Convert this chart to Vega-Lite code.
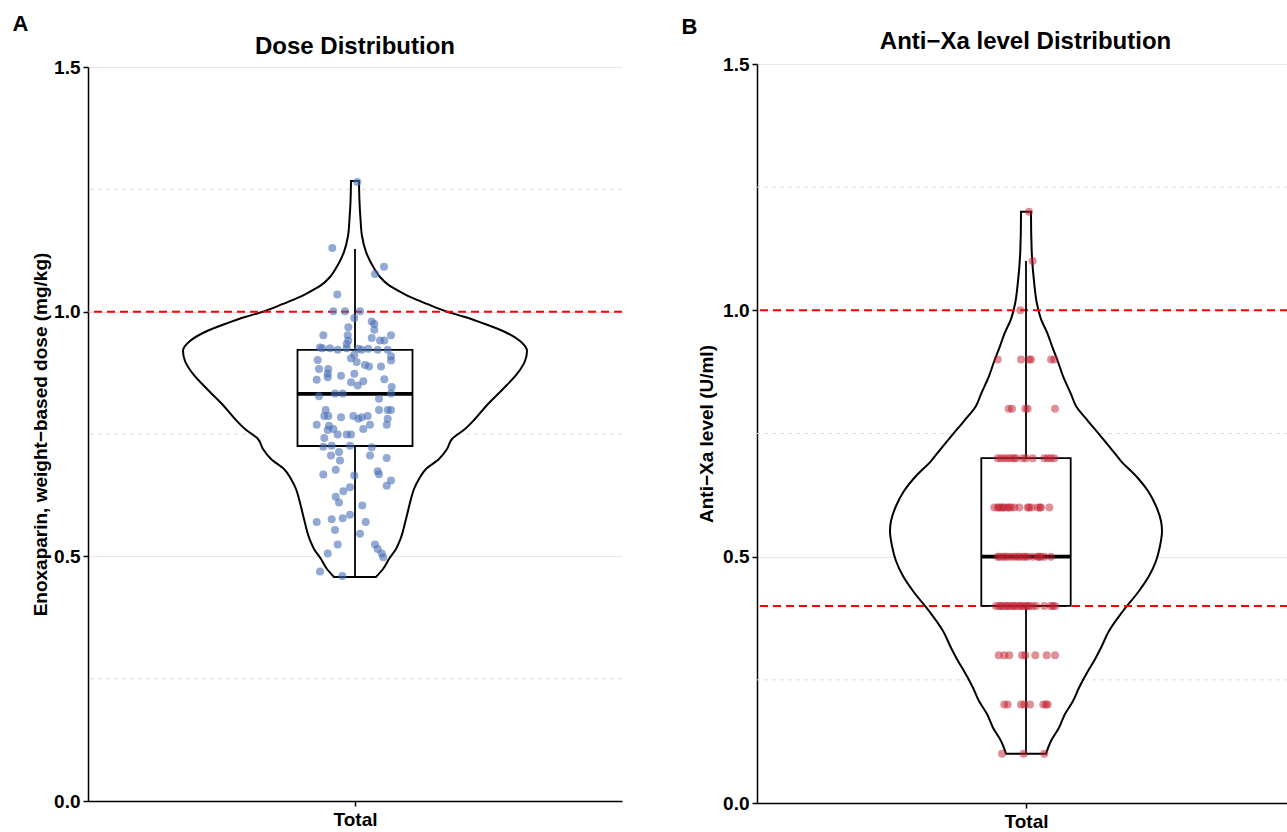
{
"$schema": "https://vega.github.io/schema/vega-lite/v6.json",
"padding": {"left": 12, "top": 13, "right": 0, "bottom": 0},
"spacing": 58,
"config": {
 "font": "Liberation Sans",
 "view": {"stroke": null},
 "axis": {"domainColor": "#000", "domainWidth": 1.5, "tickColor": "#000", "tickWidth": 1.5, "tickSize": 5, "labelColor": "#000", "labelFontWeight": "bold", "labelFontSize": 19, "titleColor": "#000", "titleFontWeight": "bold", "titleFontSize": 19, "gridColor": "#e6e6e6", "gridWidth": 1},
 "title": {"color": "#000", "fontWeight": "bold", "fontSize": 24}
},
"datasets": {
 "empty": [],
 "minor": [{"g": 0.25}, {"g": 0.75}, {"g": 1.25}],
 "refA": [{"r": 1.0}],
 "refB": [{"r": 1.0}, {"r": 0.4}],
 "boxA": [{"lo": 0.458, "q1": 0.7255, "med": 0.832, "q3": 0.922, "hi": 1.128}],
 "boxB": [{"lo": 0.1, "q1": 0.4, "med": 0.5, "q3": 0.7, "hi": 1.1}],
 "violA": [
  {"v":0.4578,"lo":-0.21,"hi":0.21},{"v":0.4741,"lo":-0.28,"hi":0.28},{"v":0.4946,"lo":-0.34,"hi":0.34},{"v":0.515,"lo":-0.41,"hi":0.41},{"v":0.5355,"lo":-0.455,"hi":0.455},{"v":0.5763,"lo":-0.51,"hi":0.51},{"v":0.6172,"lo":-0.56,"hi":0.56},{"v":0.6376,"lo":-0.59,"hi":0.59},{"v":0.6581,"lo":-0.64,"hi":0.64},{"v":0.6785,"lo":-0.71,"hi":0.71},{"v":0.699,"lo":-0.84,"hi":0.84},{"v":0.7194,"lo":-0.92,"hi":0.92},{"v":0.7398,"lo":-0.97,"hi":0.97},{"v":0.7603,"lo":-1.1,"hi":1.1},{"v":0.7807,"lo":-1.2,"hi":1.2},{"v":0.8114,"lo":-1.33,"hi":1.33},{"v":0.842,"lo":-1.48,"hi":1.48},{"v":0.8727,"lo":-1.62,"hi":1.62},{"v":0.8992,"lo":-1.7,"hi":1.7},{"v":0.9197,"lo":-1.72,"hi":1.72},{"v":0.9401,"lo":-1.65,"hi":1.65},{"v":0.9585,"lo":-1.5,"hi":1.5},{"v":0.9748,"lo":-1.3,"hi":1.3},{"v":0.9891,"lo":-1.1,"hi":1.1},{"v":0.9994,"lo":-0.93,"hi":0.93},{"v":1.0158,"lo":-0.72,"hi":0.72},{"v":1.0301,"lo":-0.55,"hi":0.55},{"v":1.0464,"lo":-0.4,"hi":0.4},{"v":1.0532,"lo":-0.345,"hi":0.345},{"v":1.0709,"lo":-0.25,"hi":0.25},{"v":1.0873,"lo":-0.195,"hi":0.195},{"v":1.122,"lo":-0.11,"hi":0.11},{"v":1.1546,"lo":-0.07,"hi":0.07},{"v":1.1894,"lo":-0.055,"hi":0.055},{"v":1.2242,"lo":-0.045,"hi":0.045},{"v":1.2671,"lo":-0.04,"hi":0.04}
 ],
 "violB": [
  {"v":0.1,"lo":-0.2,"hi":0.2},{"v":0.1258,"lo":-0.25,"hi":0.25},{"v":0.1528,"lo":-0.33,"hi":0.33},{"v":0.1806,"lo":-0.39,"hi":0.39},{"v":0.207,"lo":-0.47,"hi":0.47},{"v":0.234,"lo":-0.53,"hi":0.53},{"v":0.2679,"lo":-0.62,"hi":0.62},{"v":0.2882,"lo":-0.68,"hi":0.68},{"v":0.3152,"lo":-0.75,"hi":0.75},{"v":0.3491,"lo":-0.83,"hi":0.83},{"v":0.3897,"lo":-0.97,"hi":0.97},{"v":0.4303,"lo":-1.13,"hi":1.13},{"v":0.4607,"lo":-1.23,"hi":1.23},{"v":0.4912,"lo":-1.3,"hi":1.3},{"v":0.5216,"lo":-1.34,"hi":1.34},{"v":0.552,"lo":-1.36,"hi":1.36},{"v":0.5723,"lo":-1.35,"hi":1.35},{"v":0.6028,"lo":-1.3,"hi":1.3},{"v":0.6332,"lo":-1.22,"hi":1.22},{"v":0.6637,"lo":-1.1,"hi":1.1},{"v":0.6941,"lo":-0.95,"hi":0.95},{"v":0.7144,"lo":-0.87,"hi":0.87},{"v":0.7489,"lo":-0.73,"hi":0.73},{"v":0.7753,"lo":-0.62,"hi":0.62},{"v":0.8058,"lo":-0.5,"hi":0.5},{"v":0.8301,"lo":-0.45,"hi":0.45},{"v":0.8666,"lo":-0.37,"hi":0.37},{"v":0.8971,"lo":-0.317,"hi":0.317},{"v":0.9275,"lo":-0.26,"hi":0.26},{"v":0.9519,"lo":-0.217,"hi":0.217},{"v":0.9823,"lo":-0.15,"hi":0.15},{"v":1.0128,"lo":-0.11,"hi":0.11},{"v":1.0534,"lo":-0.083,"hi":0.083},{"v":1.1204,"lo":-0.057,"hi":0.057},{"v":1.1955,"lo":-0.05,"hi":0.05},{"v":1.2,"lo":-0.05,"hi":0.05}
 ],
 "ptsA": [
  {"j":0.023,"v":1.265},{"j":-0.227,"v":1.13},{"j":0.29,"v":1.092},{"j":0.2,"v":1.077},{"j":-0.177,"v":1.035},{"j":-0.217,"v":1.001},{"j":-0.1,"v":1.001},{"j":0.05,"v":1.001},{"j":-0.007,"v":0.987},{"j":0.167,"v":0.98},{"j":0.193,"v":0.975},{"j":-0.067,"v":0.968},{"j":0.193,"v":0.963},{"j":-0.317,"v":0.952},{"j":-0.073,"v":0.952},{"j":0.36,"v":0.952},{"j":0.167,"v":0.946},{"j":0.25,"v":0.941},{"j":0.293,"v":0.941},{"j":-0.067,"v":0.941},{"j":-0.083,"v":0.934},{"j":-0.35,"v":0.927},{"j":-0.25,"v":0.925},{"j":-0.327,"v":0.925},{"j":-0.173,"v":0.922},{"j":-0.083,"v":0.925},{"j":0.033,"v":0.924},{"j":0.067,"v":0.922},{"j":0.133,"v":0.924},{"j":0.227,"v":0.922},{"j":0.327,"v":0.922},{"j":-0.007,"v":0.912},{"j":-0.373,"v":0.901},{"j":-0.04,"v":0.905},{"j":0.36,"v":0.909},{"j":0.36,"v":0.9},{"j":0.017,"v":0.897},{"j":0.1,"v":0.891},{"j":0.14,"v":0.888},{"j":-0.267,"v":0.883},{"j":-0.36,"v":0.883},{"j":0.26,"v":0.888},{"j":-0.273,"v":0.873},{"j":-0.14,"v":0.869},{"j":-0.007,"v":0.873},{"j":-0.273,"v":0.866},{"j":0.293,"v":0.862},{"j":-0.383,"v":0.861},{"j":-0.04,"v":0.856},{"j":0.083,"v":0.858},{"j":0.027,"v":0.849},{"j":0.367,"v":0.846},{"j":-0.36,"v":0.827},{"j":-0.2,"v":0.833},{"j":-0.123,"v":0.833},{"j":0.36,"v":0.833},{"j":0.24,"v":0.822},{"j":-0.293,"v":0.799},{"j":-0.307,"v":0.787},{"j":-0.267,"v":0.787},{"j":-0.14,"v":0.784},{"j":-0.017,"v":0.787},{"j":0.033,"v":0.781},{"j":0.067,"v":0.784},{"j":0.127,"v":0.787},{"j":0.24,"v":0.799},{"j":0.327,"v":0.799},{"j":0.36,"v":0.799},{"j":0.327,"v":0.781},{"j":-0.383,"v":0.769},{"j":-0.26,"v":0.767},{"j":0.15,"v":0.769},{"j":0.317,"v":0.769},{"j":-0.273,"v":0.758},{"j":-0.217,"v":0.76},{"j":0.083,"v":0.76},{"j":-0.307,"v":0.742},{"j":-0.173,"v":0.749},{"j":-0.083,"v":0.749},{"j":-0.04,"v":0.749},{"j":-0.317,"v":0.724},{"j":-0.233,"v":0.726},{"j":-0.05,"v":0.726},{"j":0.167,"v":0.723},{"j":-0.16,"v":0.713},{"j":-0.24,"v":0.706},{"j":0.15,"v":0.706},{"j":0.317,"v":0.701},{"j":-0.15,"v":0.696},{"j":-0.193,"v":0.677},{"j":0.227,"v":0.674},{"j":0.24,"v":0.668},{"j":-0.317,"v":0.667},{"j":-0.007,"v":0.665},{"j":0.36,"v":0.655},{"j":0.317,"v":0.644},{"j":-0.05,"v":0.641},{"j":-0.117,"v":0.633},{"j":-0.193,"v":0.622},{"j":-0.16,"v":0.61},{"j":0.073,"v":0.604},{"j":-0.383,"v":0.57},{"j":-0.233,"v":0.576},{"j":-0.123,"v":0.578},{"j":-0.05,"v":0.585},{"j":0.107,"v":0.57},{"j":-0.2,"v":0.554},{"j":0.05,"v":0.546},{"j":-0.173,"v":0.524},{"j":0.2,"v":0.524},{"j":0.227,"v":0.515},{"j":0.267,"v":0.506},{"j":0.283,"v":0.498},{"j":-0.273,"v":0.506},{"j":-0.35,"v":0.469},{"j":-0.127,"v":0.46}
 ],
 "ptsB": [
  {"j":0.03,"v":1.2},{"j":0.067,"v":1.1},{"j":-0.057,"v":1.0},
  {"j":-0.283,"v":0.9},{"j":-0.05,"v":0.9},{"j":0.033,"v":0.9},{"j":0.05,"v":0.9},{"j":0.25,"v":0.9},{"j":0.283,"v":0.9},
  {"j":-0.173,"v":0.8},{"j":-0.14,"v":0.8},{"j":-0.007,"v":0.8},{"j":0.017,"v":0.8},{"j":0.29,"v":0.8},
  {"j":-0.283,"v":0.7},{"j":-0.25,"v":0.7},{"j":-0.217,"v":0.7},{"j":-0.183,"v":0.7},{"j":-0.15,"v":0.7},{"j":-0.12,"v":0.7},{"j":-0.1,"v":0.7},{"j":-0.033,"v":0.7},{"j":0.0,"v":0.7},{"j":0.067,"v":0.7},{"j":0.183,"v":0.7},{"j":0.217,"v":0.7},{"j":0.25,"v":0.7},{"j":0.283,"v":0.7},
  {"j":-0.317,"v":0.6},{"j":-0.283,"v":0.6},{"j":-0.27,"v":0.6},{"j":-0.25,"v":0.6},{"j":-0.23,"v":0.6},{"j":-0.217,"v":0.6},{"j":-0.183,"v":0.6},{"j":-0.17,"v":0.6},{"j":-0.15,"v":0.6},{"j":-0.117,"v":0.6},{"j":-0.067,"v":0.6},{"j":0.017,"v":0.6},{"j":0.03,"v":0.6},{"j":0.057,"v":0.6},{"j":0.117,"v":0.6},{"j":0.14,"v":0.6},{"j":0.15,"v":0.6},{"j":0.233,"v":0.6},
  {"j":-0.283,"v":0.5},{"j":-0.265,"v":0.5},{"j":-0.233,"v":0.5},{"j":-0.21,"v":0.5},{"j":-0.183,"v":0.5},{"j":-0.15,"v":0.5},{"j":-0.117,"v":0.5},{"j":-0.09,"v":0.5},{"j":-0.067,"v":0.5},{"j":-0.033,"v":0.5},{"j":-0.01,"v":0.5},{"j":0.017,"v":0.5},{"j":0.067,"v":0.5},{"j":0.117,"v":0.5},{"j":0.13,"v":0.5},{"j":0.15,"v":0.5},{"j":0.183,"v":0.5},{"j":0.25,"v":0.5},
  {"j":-0.3,"v":0.4},{"j":-0.267,"v":0.4},{"j":-0.25,"v":0.4},{"j":-0.233,"v":0.4},{"j":-0.2,"v":0.4},{"j":-0.185,"v":0.4},{"j":-0.167,"v":0.4},{"j":-0.133,"v":0.4},{"j":-0.12,"v":0.4},{"j":-0.1,"v":0.4},{"j":-0.067,"v":0.4},{"j":-0.05,"v":0.4},{"j":-0.033,"v":0.4},{"j":0.0,"v":0.4},{"j":0.015,"v":0.4},{"j":0.033,"v":0.4},{"j":0.067,"v":0.4},{"j":0.1,"v":0.4},{"j":0.183,"v":0.4},{"j":0.25,"v":0.4},{"j":0.267,"v":0.4},{"j":0.293,"v":0.4},
  {"j":-0.273,"v":0.3},{"j":-0.217,"v":0.3},{"j":-0.167,"v":0.3},{"j":-0.04,"v":0.3},{"j":-0.007,"v":0.3},{"j":0.093,"v":0.3},{"j":0.207,"v":0.3},{"j":0.29,"v":0.3},
  {"j":-0.217,"v":0.2},{"j":-0.183,"v":0.2},{"j":-0.05,"v":0.2},{"j":-0.017,"v":0.2},{"j":0.04,"v":0.2},{"j":0.173,"v":0.2},{"j":0.2,"v":0.2},{"j":0.217,"v":0.2},
  {"j":-0.24,"v":0.1},{"j":-0.023,"v":0.1},{"j":0.183,"v":0.1}
 ]
},
"hconcat": [
 {
  "title": {"text": "A", "anchor": "start", "frame": "bounds", "fontSize": 22, "offset": -1, "dx": -19},
  "spacing": -7,
  "vconcat": [
   {"width": 534, "height": 1, "title": {"text": "Dose Distribution", "anchor": "middle", "offset": 5},
    "data": {"name": "empty"}, "mark": {"type": "rule"}, "encoding": {}},
   {
    "width": 534, "height": 734,
    "layer": [
     {"data": {"name": "minor"}, "mark": {"type": "rule", "color": "#dddddd", "strokeDash": [4, 4], "strokeWidth": 1},
      "encoding": {"y": {"field": "g", "type": "quantitative", "scale": {"domain": [0, 1.5], "nice": false},
        "axis": {"values": [0, 0.5, 1, 1.5], "format": ".1f", "grid": true, "title": "Enoxaparin, weight−based dose (mg/kg)", "labelPadding": 3, "titlePadding": 3}}}},
     {"data": {"name": "violA"}, "mark": {"type": "area", "orient": "horizontal", "interpolate": "monotone", "fill": "white", "stroke": "black", "strokeWidth": 2},
      "encoding": {"y": {"field": "v", "type": "quantitative", "scale": {"domain": [0, 1.5], "nice": false}},
        "x": {"field": "lo", "type": "quantitative", "scale": {"domain": [-2.67, 2.67], "nice": false, "zero": false},
          "axis": {"values": [0], "labelExpr": "'Total'", "title": null, "grid": false, "labelPadding": 4}},
        "x2": {"field": "hi"}}},
     {"data": {"name": "refA"}, "mark": {"type": "rule", "color": "#ff0000", "strokeDash": [8, 5], "strokeWidth": 2},
      "encoding": {"y": {"field": "r", "type": "quantitative", "scale": {"domain": [0, 1.5], "nice": false}}}},
     {"data": {"name": "boxA"}, "mark": {"type": "rule", "color": "black", "strokeWidth": 1.8},
      "encoding": {"x": {"datum": 0, "type": "quantitative", "scale": {"domain": [-2.67, 2.67], "nice": false, "zero": false}},
        "y": {"field": "q3", "type": "quantitative", "scale": {"domain": [0, 1.5], "nice": false}}, "y2": {"field": "hi"}}},
     {"data": {"name": "boxA"}, "mark": {"type": "rule", "color": "black", "strokeWidth": 1.8},
      "encoding": {"x": {"datum": 0, "type": "quantitative", "scale": {"domain": [-2.67, 2.67], "nice": false, "zero": false}},
        "y": {"field": "lo", "type": "quantitative", "scale": {"domain": [0, 1.5], "nice": false}}, "y2": {"field": "q1"}}},
     {"data": {"name": "boxA"}, "mark": {"type": "rect", "fill": "white", "stroke": "black", "strokeWidth": 1.8},
      "encoding": {"x": {"datum": -0.575, "type": "quantitative", "scale": {"domain": [-2.67, 2.67], "nice": false, "zero": false}}, "x2": {"datum": 0.575},
        "y": {"field": "q1", "type": "quantitative", "scale": {"domain": [0, 1.5], "nice": false}}, "y2": {"field": "q3"}}},
     {"data": {"name": "boxA"}, "mark": {"type": "rule", "color": "black", "strokeWidth": 3.6},
      "encoding": {"x": {"datum": -0.575, "type": "quantitative", "scale": {"domain": [-2.67, 2.67], "nice": false, "zero": false}}, "x2": {"datum": 0.575},
        "y": {"field": "med", "type": "quantitative", "scale": {"domain": [0, 1.5], "nice": false}}}},
     {"data": {"name": "ptsA"}, "mark": {"type": "circle", "size": 64, "opacity": 0.6, "color": "#4a70b5"},
      "encoding": {"x": {"field": "j", "type": "quantitative", "scale": {"domain": [-2.67, 2.67], "nice": false, "zero": false}},
        "y": {"field": "v", "type": "quantitative", "scale": {"domain": [0, 1.5], "nice": false}}}}
    ]
   }
  ]
 },
 {
  "title": {"text": "B", "anchor": "start", "frame": "bounds", "fontSize": 22, "offset": -9, "dx": -16},
  "vconcat": [
   {
    "width": 531, "height": 739,
    "title": {"text": "Anti−Xa level Distribution", "anchor": "middle", "offset": 1, "dx": 3},
    "layer": [
     {"data": {"name": "minor"}, "mark": {"type": "rule", "color": "#dddddd", "strokeDash": [4, 4], "strokeWidth": 1},
      "encoding": {"y": {"field": "g", "type": "quantitative", "scale": {"domain": [0, 1.5], "nice": false},
        "axis": {"values": [0, 0.5, 1, 1.5], "format": ".1f", "grid": true, "title": "Anti−Xa level (U/ml)", "labelPadding": 3, "titlePadding": 6}}}},
     {"data": {"name": "violB"}, "mark": {"type": "area", "orient": "horizontal", "interpolate": "monotone", "fill": "white", "stroke": "black", "strokeWidth": 2},
      "encoding": {"y": {"field": "v", "type": "quantitative", "scale": {"domain": [0, 1.5], "nice": false}},
        "x": {"field": "lo", "type": "quantitative", "scale": {"domain": [-2.69, 2.62], "nice": false, "zero": false},
          "axis": {"values": [0], "labelExpr": "'Total'", "title": null, "grid": false, "labelPadding": 4}},
        "x2": {"field": "hi"}}},
     {"data": {"name": "refB"}, "mark": {"type": "rule", "color": "#ff0000", "strokeDash": [8, 5], "strokeWidth": 2},
      "encoding": {"y": {"field": "r", "type": "quantitative", "scale": {"domain": [0, 1.5], "nice": false}}}},
     {"data": {"name": "boxB"}, "mark": {"type": "rule", "color": "black", "strokeWidth": 1.8},
      "encoding": {"x": {"datum": 0, "type": "quantitative", "scale": {"domain": [-2.69, 2.62], "nice": false, "zero": false}},
        "y": {"field": "q3", "type": "quantitative", "scale": {"domain": [0, 1.5], "nice": false}}, "y2": {"field": "hi"}}},
     {"data": {"name": "boxB"}, "mark": {"type": "rule", "color": "black", "strokeWidth": 1.8},
      "encoding": {"x": {"datum": 0, "type": "quantitative", "scale": {"domain": [-2.69, 2.62], "nice": false, "zero": false}},
        "y": {"field": "lo", "type": "quantitative", "scale": {"domain": [0, 1.5], "nice": false}}, "y2": {"field": "q1"}}},
     {"data": {"name": "boxB"}, "mark": {"type": "rect", "fill": "white", "stroke": "black", "strokeWidth": 1.8},
      "encoding": {"x": {"datum": -0.447, "type": "quantitative", "scale": {"domain": [-2.69, 2.62], "nice": false, "zero": false}}, "x2": {"datum": 0.447},
        "y": {"field": "q1", "type": "quantitative", "scale": {"domain": [0, 1.5], "nice": false}}, "y2": {"field": "q3"}}},
     {"data": {"name": "boxB"}, "mark": {"type": "rule", "color": "black", "strokeWidth": 3.6},
      "encoding": {"x": {"datum": -0.447, "type": "quantitative", "scale": {"domain": [-2.69, 2.62], "nice": false, "zero": false}}, "x2": {"datum": 0.447},
        "y": {"field": "med", "type": "quantitative", "scale": {"domain": [0, 1.5], "nice": false}}}},
     {"data": {"name": "ptsB"}, "mark": {"type": "circle", "size": 64, "opacity": 0.5, "color": "#c21f30"},
      "encoding": {"x": {"field": "j", "type": "quantitative", "scale": {"domain": [-2.69, 2.62], "nice": false, "zero": false}},
        "y": {"field": "v", "type": "quantitative", "scale": {"domain": [0, 1.5], "nice": false}}}}
    ]
   }
  ]
 }
]
}
